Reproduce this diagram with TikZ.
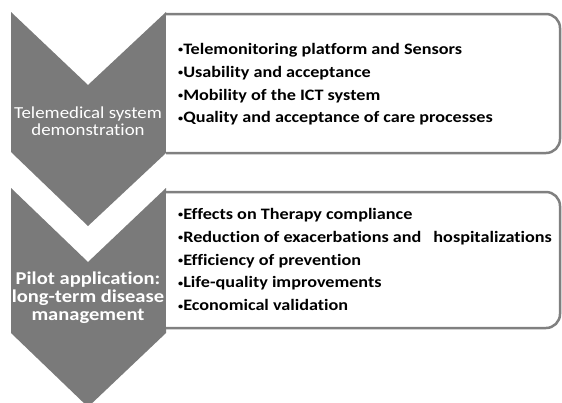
\documentclass[tikz,border=0pt]{standalone}
\usepackage{fontspec}
\setmainfont{Carlito}[Ligatures=NoCommon,FakeStretch=1.12,BoldFeatures={FakeStretch=1.14}]
\definecolor{chevgray}{HTML}{7A7A7A}
\definecolor{framegray}{HTML}{808080}
\newcommand\dotmark{\raisebox{1.6bp}{\fontsize{9}{9}\selectfont•}}
\begin{document}
\begin{tikzpicture}[x=1bp,y=-1bp,
  chevron/.style={fill=chevgray,draw=none},
  panel/.style={draw=framegray,line width=2.5bp,fill=white,rounded corners=14bp},
  bullets/.style={anchor=north west,inner sep=0,align=left,
    font=\fontsize{16}{22.9}\selectfont\bfseries},
  stage/.style={text=white,align=center,inner sep=0}]
\useasboundingbox (0,0) rectangle (562,402);
\begin{scope}
\clip (0,0) rectangle (562,402);
% first stage: chevron and its panel
\fill[chevron] (11,12) -- (88,85) -- (166,12) -- (166,153) -- (88,226) -- (11,152) -- cycle;
\draw[panel] (166,14) -- (560,14) -- (560,153) -- (166,153);
% second stage: chevron and its panel
\fill[chevron] (11,188) -- (88,262) -- (166,188) -- (166,333) -- (88,407) -- (11,333) -- cycle;
\draw[panel] (166,192) -- (560,192) -- (560,328) -- (166,328);
\end{scope}
% stage titles
\node[stage,font=\fontsize{16.9}{16.8}\selectfont] (s1) at (88,121)
  {Telemedical system\\demonstration};
\node[stage,font=\fontsize{18.1}{18}\selectfont\bfseries] (s2) at (88,298)
  {Pilot application:\\long-term disease\\management};
% bullet lists
\node[bullets] (l1) at (178,43)
  {\dotmark Telemonitoring platform and Sensors\\
   \dotmark Usability and acceptance\\
   \dotmark Mobility of the ICT system\\
   \dotmark Quality and acceptance of care processes};
\node[bullets] (l2) at (178,208)
  {\dotmark Effects on Therapy compliance\\
   \dotmark Reduction of exacerbations and\hspace{8bp} hospitalizations\\
   \dotmark Efficiency of prevention\\
   \dotmark Life-quality improvements\\
   \dotmark Economical validation};
\end{tikzpicture}
\end{document}
